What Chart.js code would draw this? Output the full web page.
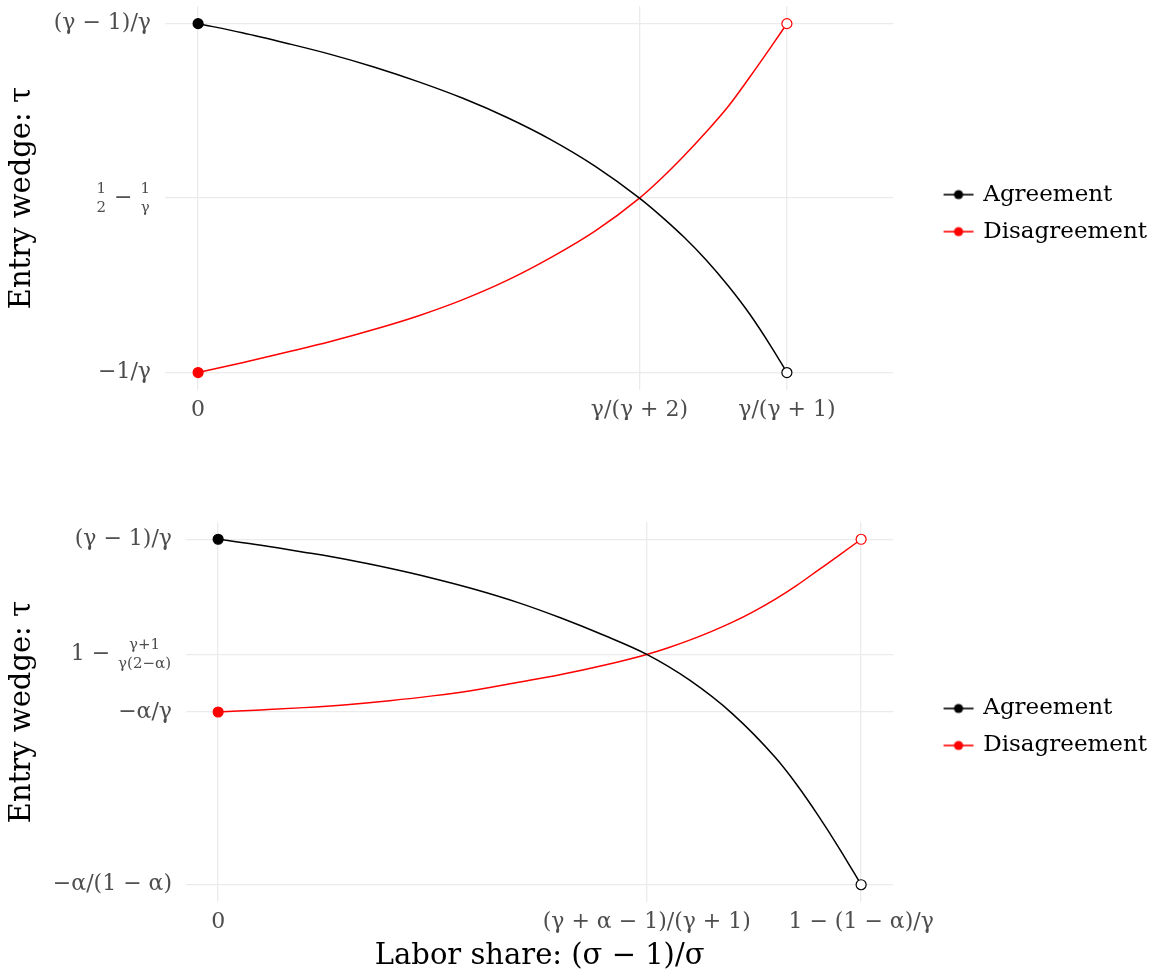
<!DOCTYPE html>
<html><head><meta charset="utf-8">
<script src="https://cdn.jsdelivr.net/npm/chart.js@4.4.1/dist/chart.umd.min.js"></script>
<style>
html,body{margin:0;padding:0;background:#fff;width:1163px;height:978px;overflow:hidden;}
canvas{position:absolute;left:0;}
#topChart{top:0;}
#botChart{top:460px;}
</style></head><body>
<canvas id="topChart" width="1163" height="420"></canvas>
<canvas id="botChart" width="1163" height="518"></canvas>
<script>
// ---------- data ----------
const seriesNames = ['Agreement', 'Disagreement'];
const seriesColors = ['#000000', '#ff0000'];

// top panel
const topAgreeX = [0, 0.05, 0.10, 0.15, 0.20, 0.25, 0.30, 0.35, 0.40, 0.45, 0.50, 0.525, 0.55, 0.575, 0.60, 0.625, 0.65, 0.667];
const topAgreeY = [0.500, 0.474, 0.444, 0.412, 0.375, 0.333, 0.286, 0.231, 0.167, 0.091, 0.000, -0.053, -0.111, -0.176, -0.250, -0.333, -0.429, -0.500];
const topDisX   = [0, 0.05, 0.10, 0.15, 0.20, 0.25, 0.30, 0.35, 0.40, 0.45, 0.50, 0.525, 0.55, 0.575, 0.60, 0.625, 0.65, 0.667];
const topDisY   = [-0.500, -0.472, -0.442, -0.411, -0.376, -0.337, -0.291, -0.236, -0.170, -0.094, 0.000, 0.057, 0.120, 0.188, 0.261, 0.347, 0.437, 0.500];
const topXTicks  = [0, 0.5, 0.667];
const topXLabels = ['0', 'γ/(γ + 2)', 'γ/(γ + 1)'];
const topYTicks  = [-0.5, 0, 0.5];
const topYLabels = ['−1/γ', '{1|2} − {1|γ}', '(γ − 1)/γ'];

// bottom panel
const botAgreeX = [0, 0.05, 0.10, 0.15, 0.20, 0.25, 0.30, 0.35, 0.40, 0.45, 0.50, 0.55, 0.60, 0.65, 0.675, 0.70, 0.725, 0.75];
const botAgreeY = [0.500, 0.474, 0.444, 0.412, 0.374, 0.331, 0.282, 0.225, 0.158, 0.083, 0.000, -0.112, -0.258, -0.448, -0.566, -0.700, -0.845, -1.000];
const botDisX   = [0, 0.05, 0.10, 0.15, 0.20, 0.25, 0.30, 0.35, 0.40, 0.45, 0.50, 0.525, 0.55, 0.575, 0.60, 0.625, 0.65, 0.675, 0.70, 0.725, 0.75];
const botDisY   = [-0.250, -0.241, -0.231, -0.218, -0.201, -0.180, -0.154, -0.121, -0.087, -0.047, 0.000, 0.029, 0.062, 0.099, 0.140, 0.187, 0.240, 0.300, 0.366, 0.432, 0.500];
const botXTicks  = [0, 0.5, 0.75];
const botXLabels = ['0', '(γ + α − 1)/(γ + 1)', '1 − (1 − α)/γ'];
const botYTicks  = [-1, -0.25, 0, 0.5];
const botYLabels = ['−α/(1 − α)', '−α/γ', '1 − {γ+1|γ(2−α)}', '(γ − 1)/γ'];

const yTitle = 'Entry wedge: τ';
const xTitle = 'Labor share: (σ − 1)/σ';

// ---------- style ----------
const FAMILY = "'DejaVu Serif', 'Liberation Serif', serif";
const TICK_SIZE = 22, FRAC_SIZE = 15, LEGEND_SIZE = 23, TITLE_SIZE = 29;
const TICK_COLOR = '#4d4d4d';
const GRID_COLOR = '#ebebeb';
const TICK_PAD = 14;

function makeGlyph(color) {
  const c = document.createElement('canvas');
  c.width = 74; c.height = 14;
  const g = c.getContext('2d');
  g.strokeStyle = color; g.lineWidth = 1.6;
  g.beginPath(); g.moveTo(41, 7); g.lineTo(71, 7); g.stroke();
  g.fillStyle = color;
  g.beginPath(); g.arc(56, 7, 4.6, 0, Math.PI * 2); g.fill();
  return c;
}
const glyphs = seriesColors.map(makeGlyph);

function fracTickPlugin(labels, values) {
  return {
    id: 'fracTicks',
    afterDraw(chart) {
      const sc = chart.scales.y, ctx = chart.ctx;
      const tickFont = TICK_SIZE + 'px ' + FAMILY;
      const fracFont = FRAC_SIZE + 'px ' + FAMILY;
      ctx.save();
      ctx.fillStyle = TICK_COLOR;
      ctx.textBaseline = 'middle';
      labels.forEach((lab, i) => {
        if (lab.indexOf('{') < 0) return;
        const y = sc.getPixelForValue(values[i]);
        const segs = lab.split(/(\{[^}]*\})/).filter(s => s.length);
        const parts = segs.map(s => {
          if (s[0] === '{') {
            const [n, d] = s.slice(1, -1).split('|');
            ctx.font = fracFont;
            return {frac: true, n, d, w: Math.max(ctx.measureText(n).width, ctx.measureText(d).width) + 2};
          }
          ctx.font = tickFont;
          return {frac: false, t: s, w: ctx.measureText(s).width};
        });
        const total = parts.reduce((a, p) => a + p.w, 0);
        let x = sc.right - TICK_PAD - total;
        parts.forEach(p => {
          if (p.frac) {
            ctx.font = fracFont; ctx.textAlign = 'center';
            ctx.fillText(p.n, x + p.w / 2, y - 9);
            ctx.fillText(p.d, x + p.w / 2, y + 10);
          } else {
            ctx.font = tickFont; ctx.textAlign = 'left';
            ctx.fillText(p.t, x, y);
          }
          x += p.w;
        });
      });
      ctx.restore();
    }
  };
}

function dataset(i, xs, ys) {
  const n = xs.length;
  const color = seriesColors[i];
  return {
    label: seriesNames[i],
    data: xs.map((x, k) => ({x: x, y: ys[k]})),
    borderColor: color,
    backgroundColor: color,
    borderWidth: 1.5,
    cubicInterpolationMode: 'monotone',
    fill: false,
    pointRadius: c => (c.dataIndex === 0 || c.dataIndex === n - 1) ? 5 : 0,
    pointHoverRadius: 0,
    pointBackgroundColor: c => c.dataIndex === 0 ? color : '#ffffff',
    pointBorderColor: color,
    pointBorderWidth: 1.2
  };
}

function makeChart(id, cfg) {
  return new Chart(document.getElementById(id), {
    type: 'line',
    data: {datasets: [dataset(0, cfg.ax, cfg.ay), dataset(1, cfg.dx, cfg.dy)]},
    options: {
      responsive: false,
      animation: false,
      devicePixelRatio: 1,
      layout: {padding: {top: cfg.padTop, left: 0, right: 6, bottom: 0}},
      plugins: {
        tooltip: {enabled: false},
        legend: {
          position: 'right',
          fullSize: false,
          maxWidth: 264,
          title: {display: true, text: '', font: {size: 10}, padding: {top: 18, bottom: 0}},
          labels: {
            usePointStyle: true,
            pointStyleWidth: 64.5,
            padding: 14,
            color: '#000000',
            font: {family: FAMILY, size: LEGEND_SIZE},
            generateLabels: chart => {
              const items = Chart.defaults.plugins.legend.labels.generateLabels(chart);
              items.forEach(it => { it.pointStyle = glyphs[it.datasetIndex]; });
              return items;
            }
          }
        }
      },
      scales: {
        x: {
          type: 'linear',
          min: -0.0375, max: 0.7875,
          afterBuildTicks: s => { s.ticks = cfg.xTicks.map(v => ({value: v})); },
          afterFit: s => { s.height = cfg.xHeight; s.paddingLeft = 0; s.paddingRight = 0; },
          ticks: {
            autoSkip: false, maxRotation: 0, padding: 7,
            color: TICK_COLOR, font: {family: FAMILY, size: TICK_SIZE},
            callback: (v, i) => cfg.xLabels[i]
          },
          grid: {color: GRID_COLOR, lineWidth: 1.3, drawTicks: false},
          border: {display: false},
          title: cfg.xTitle ? {display: true, text: cfg.xTitle, color: '#000000',
                   font: {family: FAMILY, size: TITLE_SIZE}, padding: {top: 0, bottom: 4}} : {display: false}
        },
        y: {
          type: 'linear',
          min: cfg.yMin, max: cfg.yMax,
          afterBuildTicks: s => { s.ticks = cfg.yTicks.map(v => ({value: v})); },
          afterFit: s => { s.width = cfg.yWidth; s.paddingTop = 0; s.paddingBottom = 0; },
          ticks: {
            padding: TICK_PAD,
            color: TICK_COLOR, font: {family: FAMILY, size: TICK_SIZE},
            callback: (v, i) => cfg.yLabels[i].indexOf('{') >= 0 ? '' : cfg.yLabels[i]
          },
          grid: {color: GRID_COLOR, lineWidth: 1.3, drawTicks: false},
          border: {display: false},
          title: {display: true, text: yTitle, color: '#000000',
                  font: {family: FAMILY, size: TITLE_SIZE}, padding: {top: 5, bottom: 0}}
        }
      }
    },
    plugins: [fracTickPlugin(cfg.yLabels, cfg.yTicks)]
  });
}

makeChart('topChart', {
  ax: topAgreeX, ay: topAgreeY, dx: topDisX, dy: topDisY,
  xTicks: topXTicks, xLabels: topXLabels, yTicks: topYTicks, yLabels: topYLabels,
  yMin: -0.55, yMax: 0.55, padTop: 2.4, xHeight: 30, yWidth: 165, xTitle: null
});
makeChart('botChart', {
  ax: botAgreeX, ay: botAgreeY, dx: botDisX, dy: botDisY,
  xTicks: botXTicks, xLabels: botXLabels, yTicks: botYTicks, yLabels: botYLabels,
  yMin: -1.075, yMax: 0.575, padTop: 62, xHeight: 76, yWidth: 186, xTitle: xTitle
});
</script>
</body></html>
